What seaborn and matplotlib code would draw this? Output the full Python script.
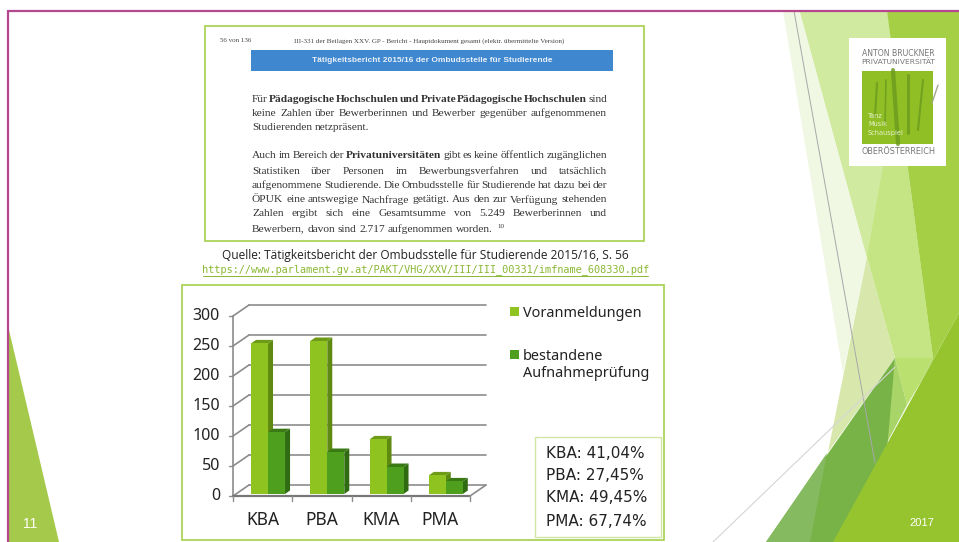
import matplotlib
matplotlib.use('Agg')
import matplotlib.pyplot as plt
from matplotlib.patches import Polygon, Rectangle
from matplotlib.transforms import Affine2D
import pandas as pd
import seaborn as sns

# Chart data
categories = ['KBA', 'PBA', 'KMA', 'PMA']
voranmeldungen = [251, 255, 91, 31]
bestanden = [103, 70, 45, 21]
yticks = [0, 50, 100, 150, 200, 250, 300]
quoten = ['KBA: 41,04%', 'PBA: 27,45%', 'KMA: 49,45%', 'PMA: 67,74%']
serien = ['Voranmeldungen', 'bestandene\nAufnahmeprüfung']
farben = ['#8fc31f', '#4f9f1e']
seiten = ['#5f8a12', '#2f6b10']
deckel = ['#6f9a18', '#3a7a14']

W, H = 959, 542
sns.set_theme(style='white')
plt.rcParams['font.family'] = ['DejaVu Sans']
fig = plt.figure(figsize=(W / 100, H / 100), dpi=100)

# Overlay in pixel coordinates for the slide itself
bg = fig.add_axes([0, 0, 1, 1], zorder=0)
bg.set_xlim(0, W)
bg.set_ylim(H, 0)
bg.axis('off')

def poly(pts, color, alpha=1.0, z=1):
    bg.add_patch(Polygon(pts, closed=True, fc=color, ec='none', alpha=alpha, zorder=z))

# Facet background, painted back to front
poly([(783, 11), (800, 11), (867, 257), (843, 373)], '#f0f7e3')
poly([(867, 257), (895, 358), (828, 452)], '#d8e8ac')
poly([(800, 11), (887, 11), (933, 358), (895, 358), (867, 257)], '#c5e585')
poly([(800, 11), (887, 11), (897, 86), (867, 257)], '#d0eba0')
poly([(887, 11), (959, 11), (959, 313), (922, 380), (933, 358)], '#a5cf45')
poly([(895, 358), (933, 358), (922, 380), (907, 405)], '#bae070')
poly([(895, 358), (907, 405), (883, 450)], '#a8d468')
poly([(895, 358), (887, 450), (838, 542), (766, 542)], '#78b348')
poly([(827, 453), (810, 542), (766, 542)], '#85ba60')
poly([(959, 313), (959, 542), (833, 542)], '#96c42f')
bg.plot([794, 875], [11, 463], color='#a8a8a8', lw=0.7, zorder=2)
bg.plot([713, 895], [542, 367], color='#d5d5d5', lw=0.8, zorder=2)
poly([(9, 330), (59, 542), (9, 542)], '#a5c94a')
bg.plot([8, 959], [11, 11], color='#b5478f', lw=1.6, zorder=3)
bg.plot([8, 8], [11, 542], color='#b5478f', lw=1.6, zorder=3)
bg.text(30, 524, '11', color='white', fontsize=10, ha='center', va='center', family='Liberation Sans', zorder=3)
bg.text(922, 523, '2017', color='white', fontsize=8, ha='center', va='center', family='Liberation Sans', zorder=3)

# Logo
bg.add_patch(Rectangle((849, 38), 97, 128, fc='white', ec='none', zorder=3))
bg.add_patch(Rectangle((862, 71), 71, 73, fc='#8fbf25', ec='none', zorder=4))
for x0, x1, y0, y1, lw in [(877, 875, 83, 117, 1.5), (886, 885, 80, 125, 1.2), (893, 898, 70, 144, 3),
                           (908, 908, 75, 133, 2.2), (923, 918, 80, 130, 1.5)]:
    bg.plot([x0, x1], [y0, y1], color='#6a9a1e', lw=lw, alpha=0.8, zorder=5)
bg.plot([938, 932], [85, 103], color='#a0a888', lw=1, zorder=5)
bg.text(898.5, 53, 'ANTON BRUCKNER', color='#777777', fontsize=5.6, ha='center', va='center', zorder=5)
bg.text(898.5, 62, 'PRIVATUNIVERSITÄT', color='#777777', fontsize=5.4, ha='center', va='center', zorder=5)
bg.text(898.5, 151, 'OBERÖSTERREICH', color='#777777', fontsize=5.9, ha='center', va='center', zorder=5)
for y, s in zip([116, 124, 133], ['Tanz', 'Musik', 'Schauspiel']):
    bg.text(868, y, s, color='#e8f2c8', fontsize=4.8, ha='left', va='center', zorder=5)

# Screenshot of the report
bg.add_patch(Rectangle((205, 26), 439, 215, fc='white', ec='#a5cf4c', lw=1.2, zorder=3))
bg.add_patch(Rectangle((251, 50), 362, 21, fc='#3f87cf', ec='none', zorder=4))
bg.text(432, 61, 'Tätigkeitsbericht 2015/16 der Ombudsstelle für Studierende', color='#e8f0f8', fontsize=6,
        fontweight='bold', family='Liberation Sans', ha='center', va='center', zorder=5)
bg.text(220, 41, '56 von 136', color='#444444', fontsize=5, family='Liberation Serif', va='center', zorder=5)
bg.text(429, 41, 'III-331 der Beilagen XXV. GP - Bericht - Hauptdokument gesamt (elektr. übermittelte Version)',
        color='#444444', fontsize=5.1, family='Liberation Serif', ha='center', va='center', zorder=5)

body = [
    (99, 'Für *Pädagogische *Hochschulen *und *Private *Pädagogische *Hochschulen sind', True),
    (113, 'keine Zahlen über Bewerberinnen und Bewerber gegenüber aufgenommenen', True),
    (128, 'Studierenden netzpräsent.', False),
    (156, 'Auch im Bereich der *Privatuniversitäten gibt es keine öffentlich zugänglichen', True),
    (171, 'Statistiken über Personen im Bewerbungsverfahren und tatsächlich', True),
    (185, 'aufgenommene Studierende. Die Ombudsstelle für Studierende hat dazu bei der', True),
    (200, 'ÖPUK eine antswegige Nachfrage getätigt. Aus den zur Verfügung stehenden', True),
    (214, 'Zahlen ergibt sich eine Gesamtsumme von 5.249 Bewerberinnen und', True),
    (229, 'Bewerbern, davon sind 2.717 aufgenommen worden.', False),
]
renderer = fig.canvas.get_renderer()
for y, line, justify in body:
    items = []
    for w in line.split(' '):
        bold = w.startswith('*')
        items.append(bg.text(0, y, w.lstrip('*'), color='#333333', fontsize=8.2, family='Liberation Serif',
                             fontweight='bold' if bold else 'normal', va='center', zorder=5))
    widths = [t.get_window_extent(renderer).width for t in items]
    gap = (607 - 252 - sum(widths)) / (len(items) - 1) if justify else 2.8
    x = 252
    for t, w in zip(items, widths):
        t.set_x(x)
        x += w + gap
bg.text(x + 2, 226, '10', color='#333333', fontsize=5, family='Liberation Serif', va='center', zorder=5)

bg.text(425.5, 255, 'Quelle: Tätigkeitsbericht der Ombudsstelle für Studierende 2015/16, S. 56', color='#222222',
        fontsize=8.6, family='Open Sans', ha='center', va='center', zorder=5)
bg.text(425.5, 270, 'https://www.parlament.gv.at/PAKT/VHG/XXV/III/III_00331/imfname_608330.pdf', color='#8ab833',
        fontsize=7.4, ha='center', va='center', zorder=5, family='DejaVu Sans Mono')
bg.plot([203, 648], [276, 276], color='#8ab833', lw=0.7, zorder=5)

# Chart frames
bg.add_patch(Rectangle((182, 285), 482, 255, fc='white', ec='#a5cf4c', lw=1.2, zorder=3))
bg.add_patch(Rectangle((535, 437), 126, 100, fc='white', ec='#cfe6a5', lw=1.0, zorder=4))
for y, s in zip([454, 476, 498, 521], quoten):
    bg.text(546, y, s, color='#222222', fontsize=11, va='center', zorder=5)

# Bars
df = pd.DataFrame({'Kategorie': categories * 2,
                   'Wert': voranmeldungen + bestanden,
                   'Serie': [serien[0]] * 4 + [serien[1]] * 4})
ax = fig.add_axes([238.4 / W, 1 - 494 / H, 237 / W, 180 / H], zorder=2)
ax.patch.set_alpha(0)
sns.barplot(data=df, x='Kategorie', y='Wert', hue='Serie', palette=farben, width=0.574, gap=0, saturation=1,
            legend=False, linewidth=0, ax=ax, zorder=5)
ax.set_xlim(-0.5, 3.5)
ax.set_ylim(0, 300)
ax.set_xlabel('')
ax.set_ylabel('')
ax.set_xticks([])
ax.set_yticks([])
sns.despine(ax=ax, left=True, bottom=True)

def shifted(dx, dy):
    return ax.transData + Affine2D().translate(dx, dy)

def wall_line(t0, p0, t1, p1, color='#8c8c8c', lw=1.2):
    x0, y0 = t0.transform(p0)
    x1, y1 = t1.transform(p1)
    bg.plot([x0, x1], [H - y0, H - y1], color=color, lw=lw, zorder=4)

# Walls and gridlines, offset from the bars because of the fake depth
front = shifted(-5.4, -2)
back = shifted(10.6, 9)
for v in yticks:
    wall_line(back, (-0.5, v), back, (3.5, v))
    wall_line(front, (-0.5, v), back, (-0.5, v))
    x0, y0 = front.transform((-0.5, v))
    bg.plot([x0 - 4, x0], [H - y0, H - y0], color='#8c8c8c', lw=1, zorder=4)
    bg.text(x0 - 13, H - y0, str(v), color='#222222', fontsize=11.5, family='Noto Sans', ha='right', va='center', zorder=5)
wall_line(front, (-0.5, 0), front, (-0.5, 300))
wall_line(front, (-0.5, 0), front, (3.5, 0), color='#777777', lw=1.6)
wall_line(front, (3.5, 0), back, (3.5, 0))
for i, c in enumerate(categories + ['']):
    xp, yp = front.transform((i - 0.5, 0))
    bg.plot([xp, xp], [H - yp, H - yp + 5], color='#8c8c8c', lw=1, zorder=4)
    if c:
        xt, _ = front.transform((i, 0))
        bg.text(xt, 520, c, color='#222222', fontsize=12.5, family='Noto Sans', ha='center', va='center', zorder=5)

# Side and top faces of every bar, taken from the bars themselves
for j, cont in enumerate(ax.containers):
    for bar in cont:
        x, w, h = bar.get_x(), bar.get_width(), bar.get_height()
        (xl, yb), (xr, yt) = ax.transData.transform([(x, 0), (x + w, h)])
        dx, dy = 5, 3.5
        side = [(xr, H - yb), (xr + dx, H - yb - dy), (xr + dx, H - yt - dy), (xr, H - yt)]
        top = [(xl, H - yt), (xl + dx, H - yt - dy), (xr + dx, H - yt - dy), (xr, H - yt)]
        poly(side, seiten[j], z=4.5 + j)
        poly(top, deckel[j], z=4.5 + j)

# Legend
handles = [Rectangle((0, 0), 1, 1, fc=c, ec='none') for c in farben]
leg = fig.legend(handles, serien, loc='upper left', bbox_to_anchor=(497 / W, 1 - 293 / H), frameon=False,
                 handlelength=0.6, handleheight=0.6, handletextpad=0.3, labelspacing=1.95,
                 labelcolor='#222222', prop={'family': 'Noto Sans', 'size': 10.4})
leg.set_zorder(6)
for t in leg.get_texts():
    t.set_linespacing(1.2)
leg.legend_handles[1].set_y(leg.legend_handles[1].get_y() + 8)

fig.savefig('out.png', dpi=100)
